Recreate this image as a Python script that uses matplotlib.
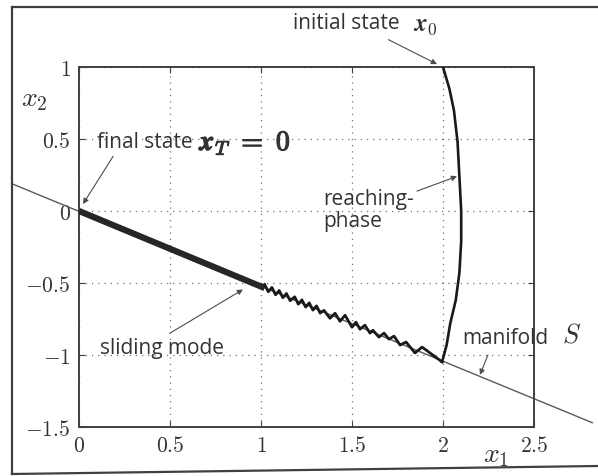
import matplotlib
matplotlib.use("Agg")
import matplotlib.pyplot as plt
import matplotlib.patheffects as pe
from matplotlib.lines import Line2D

plt.rcParams['mathtext.fontset'] = 'cm'
plt.rcParams['font.family'] = ['Open Sans', 'DejaVu Sans']

# reaching phase: from x0 = (2, 1) down to the manifold
reach_x = [2.00, 2.035, 2.06, 2.08, 2.09, 2.10, 2.10, 2.09, 2.07, 2.04, 2.02, 1.995]
reach_y = [1.00, 0.85, 0.70, 0.48, 0.24, 0.00, -0.21, -0.43, -0.62, -0.78, -0.93, -1.048]

# sliding mode: chattering along the manifold
slide_x = [1.02, 1.04, 1.06, 1.08, 1.10, 1.12, 1.14, 1.16, 1.185, 1.205, 1.225, 1.245,
           1.265, 1.285, 1.305, 1.325, 1.346, 1.379, 1.407, 1.434, 1.462, 1.500, 1.522,
           1.544, 1.571, 1.599, 1.615, 1.648, 1.676, 1.703, 1.731, 1.764, 1.797, 1.846,
           1.885, 1.995]
slide_y = [-0.510, -0.561, -0.531, -0.582, -0.552, -0.602, -0.573, -0.623, -0.596, -0.647,
           -0.617, -0.667, -0.638, -0.688, -0.659, -0.709, -0.690, -0.745, -0.710, -0.766,
           -0.724, -0.807, -0.772, -0.821, -0.793, -0.848, -0.828, -0.876, -0.848, -0.890,
           -0.869, -0.931, -0.910, -0.986, -0.945, -1.048]

# dense chattering band near the origin
band_x = [0.0, 1.02]
band_y = [0.0, -0.535]

# manifold S
manifold_x = [-0.37, 2.82]
manifold_y = [0.19, -1.47]

xticks = [0, 0.5, 1, 1.5, 2, 2.5]
xticklabels = ['0', '0.5', '1', '1.5', '2', '2.5']
yticks = [-1.5, -1, -0.5, 0, 0.5, 1]
yticklabels = ['-1.5', '-1', '-0.5', '0', '0.5', '1']

fig = plt.figure(figsize=(5.98, 4.77), dpi=100)
ax = fig.add_axes([79/598, 1 - 428/477, 455/598, 360/477])

ax.set_xlim(0, 2.5)
ax.set_ylim(-1.5, 1)
ax.set_xticks(xticks, labels=['$%s$' % s for s in xticklabels])
ax.set_yticks(yticks, labels=['$%s$' % s for s in yticklabels])
ax.tick_params(direction='in', length=4, top=True, right=True, labelsize=15.5,
               color='0.25', labelcolor='0.2', pad=6)
for sp in ax.spines.values():
    sp.set_linewidth(1.4)
    sp.set_color('0.25')
ax.grid(True, linestyle=(0, (1, 4)), color='0.45', lw=0.9)
ax.set_axisbelow(True)

ax.plot(manifold_x, manifold_y, color='0.35', lw=1.0, clip_on=False, zorder=2)
ax.plot(band_x, band_y, color='0.15', lw=4.5, solid_capstyle='butt', zorder=3)
ax.plot(slide_x, slide_y, color='0.1', lw=2.0, zorder=3)
ax.plot(reach_x, reach_y, color='0.1', lw=1.9, zorder=3)

arrow = dict(arrowstyle='-|>', lw=0.8, color='0.3', mutation_scale=8, shrinkA=0, shrinkB=0)
tc = '0.2'
fs = 15
bold = [pe.withStroke(linewidth=0.9, foreground=tc)]

ax.annotate('', xy=(1.967, 1.02), xytext=(1.70, 1.19), arrowprops=arrow, annotation_clip=False)
ax.text(1.176, 1.31, 'initial state', fontsize=fs, color=tc, va='center', ha='left',
        clip_on=False)
ax.text(1.835, 1.30, r'$\mathbfit{x}_0$', fontsize=18, color=tc, va='center', ha='left',
        clip_on=False)

ax.annotate('', xy=(0.022, 0.048), xytext=(0.187, 0.379), arrowprops=arrow)
ax.text(0.099, 0.483, 'final state', fontsize=fs, color=tc, va='center', ha='left')
ax.text(0.665, 0.475, r'$\mathbfit{x}_T\ \mathbf{=}\ \mathbf{0}$', fontsize=20, color=tc,
        va='center', ha='left', path_effects=bold)

ax.annotate('', xy=(2.077, 0.241), xytext=(1.857, 0.138), arrowprops=arrow)
ax.text(1.341, 0.01, 'reaching-\nphase', fontsize=fs, color=tc, va='center', ha='left',
        linespacing=1.1)

ax.annotate('', xy=(0.901, -0.545), xytext=(0.5, -0.848), arrowprops=arrow)
ax.text(0.115, -0.945, 'sliding mode', fontsize=fs, color=tc, va='center', ha='left')

ax.annotate('', xy=(2.203, -1.138), xytext=(2.247, -1.0), arrowprops=arrow)
ax.text(2.104, -0.876, 'manifold', fontsize=fs, color=tc, va='center', ha='left')
ax.text(2.654, -0.86, '$S$', fontsize=19, color=tc, va='center', ha='left', clip_on=False)

ax.text(2.29, -1.69, '$x_1$', fontsize=20, color=tc, ha='center', va='center', clip_on=False)
ax.text(-0.247, 0.786, '$x_2$', fontsize=20, color=tc, ha='center', va='center', clip_on=False)

# outer frame (open on the right)
fig.add_artist(Line2D([12/598, 1.0], [1 - 8/477, 1 - 8/477], color='0.25', lw=1.6))
fig.add_artist(Line2D([12/598, 12/598], [1 - 8/477, 1 - 475/477], color='0.25', lw=1.6))
fig.add_artist(Line2D([12/598, 1.0], [1 - 475/477, 1 - 467/477], color='0.25', lw=1.6))

fig.savefig('out.png', dpi=100)
